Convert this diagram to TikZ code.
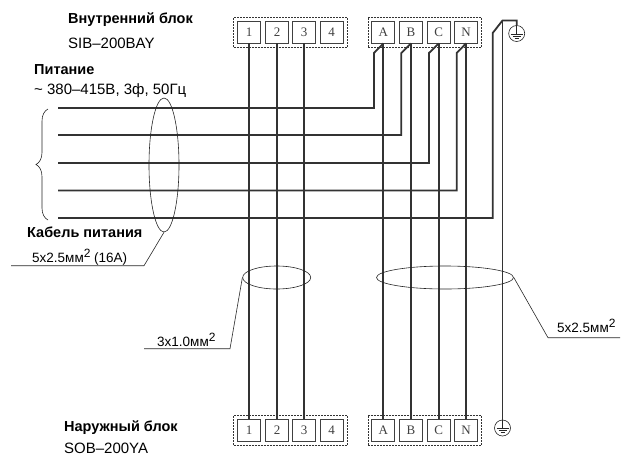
\documentclass[tikz,border=0pt]{standalone}
\usepackage{fontspec}
\setmainfont{Liberation Serif}
\newfontfamily\labelfont{Liberation Sans}
\usetikzlibrary{decorations.pathreplacing,shapes.geometric}
\newcommand{\sq}{\raisebox{4.5pt}{\fontsize{12}{12}\selectfont 2}}
\begin{document}
\begin{tikzpicture}[
    x                = 1pt,
    y                = -1pt,
    wire/.style      = {draw, line width=1.8pt, black!80},
    thin line/.style = {draw, line width=0.6pt, black!85},
    terminal/.style  = {draw, line width=0.9pt, black!75, minimum width=23pt, minimum height=22pt,
                        inner sep=0pt, font=\fontsize{13}{13}\selectfont},
    strip/.style     = {draw, dash pattern=on 2pt off 1pt, line width=0.6pt, black!80, minimum width=113.5pt, minimum height=30pt},
    title/.style     = {anchor=west, inner sep=0pt, align=left, font=\labelfont\bfseries\fontsize{14.5}{16}\selectfont},
    note/.style      = {anchor=west, inner sep=0pt, align=left, font=\labelfont\fontsize{15}{16}\selectfont},
    size/.style      = {anchor=base west, inner sep=0pt, font=\labelfont\fontsize{13.5}{15}\selectfont},
    earth/.style     = {draw, circle, line width=0.6pt, black!85, minimum size=16pt, inner sep=0pt},
    loop/.style      = {draw, ellipse, line width=0.6pt, black!85, inner sep=0pt}
  ]
\useasboundingbox (0,0) rectangle (625,456);

% terminal strips
\node[strip] (stripTop)  at (290.3,32)  {};
\node[strip] (stripTopP) at (425,32)    {};
\node[strip] (stripBot)  at (290.3,430.3) {};
\node[strip] (stripBotP) at (425,430.3)   {};

\foreach \name/\xpos in {1/249,2/277,3/304,4/331.7,A/383.3,B/411,C/438.7,N/466} {
  \node[terminal] (top\name) at (\xpos,32)  {\name};
  \node[terminal] (bot\name) at (\xpos,430.3) {\name};
}

% signal wires
\foreach \name in {1,2,3,A,B,C,N} {
  \draw[wire] (top\name) -- (bot\name);
}

% power supply
\foreach \name/\xpos/\ypos in {A/374/108,B/401.3/135,C/429/163,N/456.7/190.5} {
  \coordinate (start\name) at (58,\ypos);
  \coordinate (bend\name) at (\xpos,\ypos);
  \coordinate (knee\name) at (\xpos,53);
  \draw[wire] (start\name) -- (bend\name) -- (knee\name) -- (top\name.south);
}

% earth
\node[earth] (earthTop) at (516.7,33.5) {};
\node[earth] (earthBot) at (502.5,428) {};
\foreach \name in {earthTop,earthBot} {
  \draw[thin line] (\name.center) -- (\name.north);
  \draw[thin line] ([xshift=-6pt,yshift=-0.5pt]\name.center) -- ([xshift=6pt,yshift=-0.5pt]\name.center);
  \draw[thin line] ([xshift=-4pt,yshift=-2.5pt]\name.center) -- ([xshift=4pt,yshift=-2.5pt]\name.center);
  \draw[thin line] ([xshift=-2pt,yshift=-4.5pt]\name.center) -- ([xshift=2pt,yshift=-4.5pt]\name.center);
}
\coordinate (startE) at (58,218);
\coordinate (bendE) at (492.7,218);
\coordinate (kneeE) at (492.7,33);
\coordinate (topE) at (502.5,20.5);
\coordinate (cornerE) at (516.7,20.5);
\draw[wire] (startE) -- (bendE) -- (kneeE) -- (topE) -- (cornerE) -- (earthTop.north);
\draw[wire] (topE) -- (earthBot.north);

% cable loops
\node[loop, minimum width=30pt, minimum height=134pt] (cablePower) at (164,165) {};
\node[loop, minimum width=68pt, minimum height=23pt] (cableSignal) at (276.7,277.5) {};
\node[loop, minimum width=137pt, minimum height=23pt] (cableMains) at (445,277.5) {};

% leaders
\coordinate (leadPowerA) at (144,265.7);
\coordinate (leadPowerB) at (11,265.7);
\coordinate (leadSignalA) at (230,348.7);
\coordinate (leadSignalB) at (144,348.7);
\coordinate (leadMainsA) at (548,337.7);
\coordinate (leadMainsB) at (620,337.7);
\draw[thin line] (cablePower.south) -- (leadPowerA) -- (leadPowerB);
\draw[thin line] (cableSignal.west) -- (leadSignalA) -- (leadSignalB);
\draw[thin line] (cableMains.east) -- (leadMainsA) -- (leadMainsB);

% brace
\coordinate (braceTop) at (48,109);
\coordinate (braceBot) at (48,220);
\draw[thin line, decorate, decoration={brace, amplitude=12pt}] (braceBot) -- (braceTop);

% labels
\node[title] (labelIndoor) at (68,20) {Внутренний блок};
\node[note]  (labelIndoorM) at (68,43) {SIB–200BAY};
\node[title] (labelSupply) at (34,70) {Питание};
\node[note]  (labelSupplyV) at (34,91) {\textasciitilde{} 380–415В, 3ф, 50Гц};
\node[title] (labelCable) at (27,232) {Кабель питания};
\node[size]  (labelCableS) at (32,262) {5х2.5мм\sq{} (16А)};
\node[size]  (labelSignal) at (157,346) {3х1.0мм\sq};
\node[size]  (labelMains) at (557,332) {5х2.5мм\sq};
\node[title] (labelOutdoor) at (64,428) {Наружный блок};
\node[note]  (labelOutdoorM) at (64,448) {SOB–200YA};
\end{tikzpicture}
\end{document}
